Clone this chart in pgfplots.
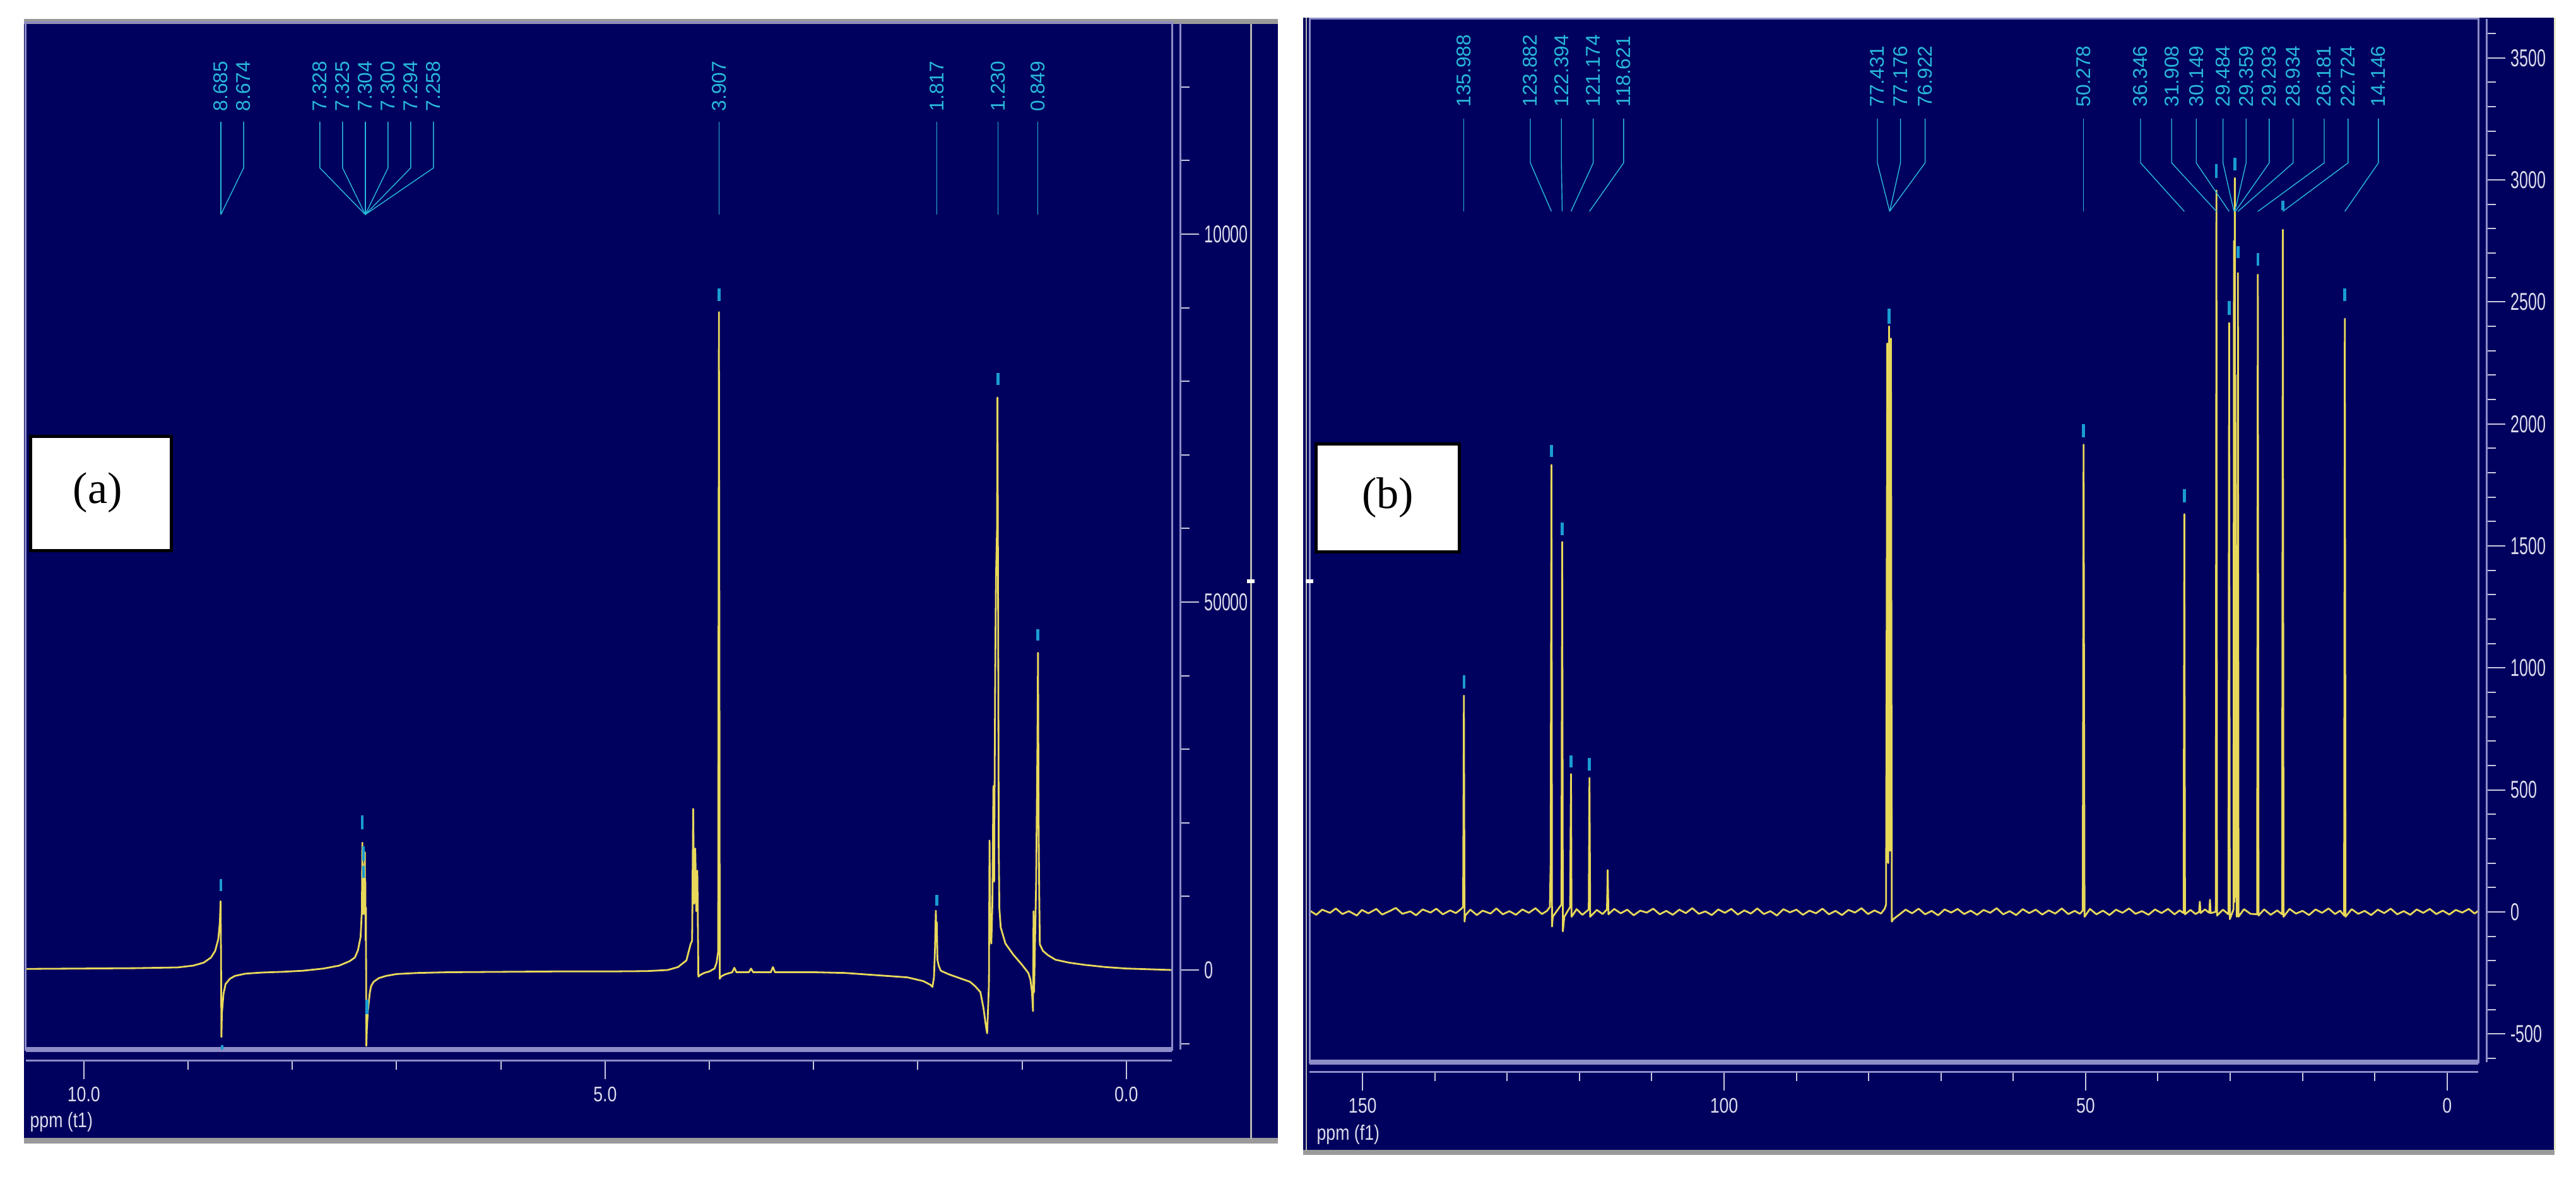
\documentclass[border=0pt]{standalone}
\usepackage{pgfplots}
\pgfplotsset{compat=1.18}
\usepackage{fontspec}
\setmainfont{Liberation Sans}
\newfontfamily\serifont{Liberation Serif}
\definecolor{navy}{HTML}{00005E}
\definecolor{specy}{HTML}{E8D85A}
\definecolor{cyanl}{HTML}{28B8DA}
\definecolor{markc}{HTML}{1A9CD2}
\definecolor{framecol}{HTML}{8C8CC8}
\definecolor{tickcol}{HTML}{C8C8E0}
\definecolor{labcol}{HTML}{DCDCEC}
\definecolor{barcol}{HTML}{9A9A9A}
\definecolor{sepcol}{HTML}{B4B4B4}
\definecolor{pale}{HTML}{E8E8C8}

\pgfplotsset{
  nmr/.style={
    scale only axis, anchor=south west, x dir=reverse,
    axis x line*=bottom, axis y line*=right,
    axis line style={framecol, line width=0.03cm, -},
    xtick align=outside, ytick align=outside,
    major tick length=0.3cm, minor tick length=0.15cm,
    every tick/.style={tickcol, line width=0.02cm},
    clip mode=individual, scaled ticks=false,
    xticklabel style={font=\fontsize{9.5}{9.5}\selectfont, text=labcol, xscale=0.8},
    yticklabel style={font=\fontsize{11}{11}\selectfont, text=labcol, xscale=0.65, anchor=west},
  },
  spec/.style={color=specy, line width=0.028cm, line join=round, mark=none},
}
\tikzset{
  leader/.style={cyanl, line width=0.014cm},
  lbl/.style={text=cyanl, rotate=90, anchor=west, inner sep=0pt, font=\fontsize{9}{9}\selectfont},
  pkmark/.style={markc, line width=0.045cm},
}
\newcommand\pka[3]{\draw[leader] (axis cs:#1,115270) -- (axis cs:#1,109000) -- (axis cs:#2,102660); \node[lbl] at (axis cs:#1,116640) {#3};}
\newcommand\pkb[3]{\draw[leader] (axis cs:#1,3251) -- (axis cs:#1,3070) -- (axis cs:#2,2871); \node[lbl] at (axis cs:#1,3298) {#3};}
\newcommand\mk[3]{\draw[pkmark] (axis cs:#1,#2) -- (axis cs:#1,#3);}

\begin{document}
\begin{tikzpicture}
\useasboundingbox (0,0) rectangle (40.82,18.64);
\fill[white] (0,0) rectangle (40.82,18.64);
% panel (a) background
\fill[navy] (0.38,0.59) rectangle (20.25,18.34);
\fill[barcol] (0.38,18.26) rectangle (20.25,18.34);
\fill[barcol] (0.38,0.52) rectangle (20.25,0.61);
\draw[sepcol, line width=0.03cm] (19.82,0.59) -- (19.82,18.26);
% panel (b) background
\fill[navy] (20.65,0.41) rectangle (40.48,18.36);
\fill[barcol] (20.65,0.34) rectangle (40.48,0.42);
\draw[pale, line width=0.03cm] (40.48,0.41) -- (40.48,18.36);
\draw[sepcol, line width=0.02cm] (20.70,0.41) -- (20.70,18.36);

% ---------------- (a) 1H spectrum ----------------
\begin{axis}[nmr, at={(0.41cm,2.01cm)}, width=18.16cm, height=16.27cm,
  xmin=-0.437, xmax=10.556, ymin=-10806, ymax=128730,
  axis x line shift=0.17cm, axis y line shift=0.13cm,
  xtick={0,5,10}, xticklabels={0.0,5.0,10.0}, minor xtick={0,1,...,10},
  ytick={0,50000,100000}, yticklabels={0,50000,10000}, minor ytick={-10000,0,...,120000}]
\addplot[spec] coordinates {
(10.556,150) (10.0,200) (9.5,250) (9.1,350) (8.95,600) (8.85,1000) (8.78,1700)
(8.74,2600) (8.71,4200) (8.695,6500) (8.688,9350) (8.684,2000) (8.680,-9100)
(8.676,-6000) (8.670,-4900) (8.66,-3200) (8.64,-1900) (8.60,-1200) (8.55,-800)
(8.45,-500) (8.3,-350) (8.1,-250) (7.9,-100) (7.7,200) (7.55,600) (7.45,1200)
(7.40,1700) (7.37,2700) (7.345,4500) (7.333,8000) (7.328,17300) (7.326,9000)
(7.325,14500) (7.318,7600) (7.310,9000) (7.304,16000) (7.302,8000) (7.300,12000)
(7.297,4000) (7.294,8500) (7.290,-10300) (7.285,-8000) (7.275,-5500) (7.258,-3200)
(7.245,-2200) (7.22,-1600) (7.17,-1100) (7.1,-800) (7.0,-550) (6.8,-400) (6.5,-300)
(6.0,-250) (5.5,-200) (5.0,-200) (4.6,-150) (4.4,0) (4.3,400) (4.22,1300) (4.18,3500)
(4.165,4000) (4.155,21900) (4.145,9000) (4.135,16500) (4.125,8000) (4.115,13500)
(4.105,-900) (4.09,-700) (4.05,-400) (4.0,-200) (3.95,200) (3.93,1000) (3.915,2500)
(3.908,89400) (3.903,40000) (3.900,-1200) (3.89,-900) (3.85,-600) (3.78,-300)
(3.76,300) (3.74,-300) (3.62,-300) (3.60,200) (3.58,-300) (3.41,-300) (3.39,400)
(3.37,-300) (3.0,-300) (2.7,-400) (2.5,-600) (2.3,-800) (2.1,-1000) (1.95,-1500)
(1.88,-2000) (1.86,-2300) (1.845,-1000) (1.835,3000) (1.827,8060) (1.822,4000)
(1.818,6500) (1.812,1400) (1.80,600) (1.78,-100) (1.70,-600) (1.60,-1100)
(1.50,-1600) (1.45,-2200) (1.40,-3000) (1.37,-5200) (1.345,-7800) (1.335,-8600)
(1.318,-2000) (1.312,17600) (1.305,5000) (1.295,3600) (1.285,9000) (1.275,25000)
(1.268,12000) (1.258,40000) (1.250,53400) (1.240,60000) (1.236,77800) (1.230,50000)
(1.224,16900) (1.218,8400) (1.205,5800) (1.16,3600) (1.085,2100) (1.00,700)
(0.94,-400) (0.92,-1300) (0.905,-3000) (0.895,-5600) (0.890,8000) (0.885,-3000)
(0.865,12000) (0.853,30000) (0.847,43100) (0.842,21000) (0.836,11000) (0.830,3500)
(0.80,2600) (0.75,2000) (0.68,1400) (0.55,1000) (0.4,700) (0.2,400) (0.0,200) (-0.437,0)
};
\draw[framecol, line width=0.03cm] (rel axis cs:0,0) rectangle (rel axis cs:1,1);
\draw[framecol, line width=0.08cm] (rel axis cs:0,0) -- (rel axis cs:1,0);
\pka{8.685}{8.685}{8.685}
\pka{8.467}{8.685}{8.674}
\pka{7.736}{7.30}{7.328}
\pka{7.518}{7.30}{7.325}
\pka{7.300}{7.30}{7.304}
\pka{7.082}{7.30}{7.300}
\pka{6.864}{7.30}{7.294}
\pka{6.646}{7.30}{7.258}
\pka{3.907}{3.907}{3.907}
\pka{1.817}{1.817}{1.817}
\pka{1.230}{1.230}{1.230}
\pka{0.849}{0.849}{0.849}
\mk{8.685}{10700}{12350}
\mk{8.674}{-10200}{-10800}
\mk{7.328}{19100}{21000}
\mk{7.318}{14800}{16800}
\mk{7.318}{12500}{14150}
\mk{7.285}{-4000}{-6000}
\mk{3.907}{90900}{92600}
\mk{1.817}{8750}{10240}
\mk{1.230}{79500}{81100}
\mk{0.849}{44800}{46300}
\end{axis}

% ---------------- (b) 13C spectrum ----------------
\begin{axis}[nmr, at={(20.75cm,1.81cm)}, width=18.52cm, height=16.53cm,
  xmin=-4.3, xmax=157.35, ymin=-616, ymax=3660,
  axis x line shift=0.15cm, axis y line shift=0.13cm,
  xtick={0,50,100,150}, xticklabels={0,50,100,150}, minor xtick={0,10,...,150},
  ytick={-500,0,...,3500}, yticklabels={-500,0,500,1000,1500,2000,2500,3000,3500},
  minor ytick={-600,-500,...,3600}]
\addplot[spec] coordinates {
(157.3,5) (156.4,-12) (155.6,9) (154.5,-4) (153.7,14) (152.8,-9) (151.9,3) (150.8,-15)
(150.1,8) (149.2,-6) (148.1,12) (147.3,-11) (146.2,4) (145.4,16) (144.5,-8) (143.4,2)
(142.6,-14) (141.7,10) (140.6,-3) (139.8,13) (138.9,-10) (137.9,6) (137.1,-5) (136.4,11)
(136.1,20) (135.988,886) (135.9,-40) (135.8,-15) (135.1,9) (134.2,-13) (133.4,5)
(132.3,-7) (131.5,14) (130.6,-10) (129.7,3) (128.8,-12) (127.9,10) (127.0,-4)
(126.1,15) (125.2,-9) (124.5,4) (124.1,20) (123.99,200)
(123.882,1832) (123.8,-60) (123.7,-20) (122.5,30) (122.394,1516) (122.3,-80)
(122.1,-20) (121.3,20) (121.174,565) (121.1,-20) (120.4,11) (119.6,-12) (118.72,10)
(118.621,549) (118.52,-20) (117.6,8) (116.8,-9) (116.2,10) (116.1,171) (116.0,-10)
(115.2,12) (114.3,-6) (113.4,9) (112.5,-14) (111.6,5) (110.7,-3) (109.8,13) (108.9,-10)
(108.0,4) (107.1,-12) (106.2,9) (105.3,-5) (104.4,15) (103.5,-8) (102.6,2) (101.7,-13)
(100.8,10) (99.9,-4) (99.0,12) (98.1,-11) (97.2,6) (96.3,-7) (95.4,14) (94.5,-9)
(93.6,3) (92.7,-15) (91.8,11) (90.9,-2) (90.0,9) (89.1,-12) (88.2,5) (87.3,-6)
(86.4,13) (85.5,-10) (84.6,4) (83.7,-13) (82.8,8) (81.9,-3) (81.0,15) (80.1,-9)
(79.2,6) (78.3,-7) (77.8,12) (77.6,30)
(77.431,2330) (77.3,200) (77.176,2400) (77.05,250) (76.922,2350) (76.8,-40)
(76.6,-30) (75.8,-12) (74.9,9) (74.0,-6) (73.1,13) (72.2,-10) (71.3,4) (70.4,-14)
(69.5,10) (68.6,-3) (67.7,12) (66.8,-9) (65.9,5) (65.0,-12) (64.1,8) (63.2,-4)
(62.3,15) (61.4,-10) (60.5,3) (59.6,-13) (58.7,11) (57.8,-5) (56.9,9) (56.0,-11)
(55.1,6) (54.2,-7) (53.3,14) (52.4,-9) (51.5,4) (50.8,-8)
(50.4,5) (50.278,1915) (50.15,-20) (49.4,12) (48.5,-10) (47.6,5) (46.7,-13) (45.8,9)
(44.9,-4) (44.0,14) (43.1,-8) (42.2,3) (41.3,-12) (40.4,10) (39.5,-5) (38.6,12)
(37.7,-10) (37.0,6) (36.45,-5) (36.346,1630) (36.25,-10) (35.5,8) (34.8,-9)
(34.3,0) (34.2,42) (34.1,-5) (33.5,10) (32.9,-4) (32.8,50) (32.7,-5) (32.0,0) (31.908,2957)
(31.82,-15) (31.0,9) (30.25,-10) (30.149,2414) (30.05,-30) (29.55,10) (29.484,2750)
(29.42,40) (29.359,3008) (29.326,60) (29.293,2200) (29.1,-20) (29.0,10)
(28.934,2618) (28.85,-20) (28.1,11) (27.2,-8) (26.28,-10) (26.181,2612) (26.08,-15)
(25.3,10) (24.4,-12) (23.5,6) (22.82,-10) (22.724,2796) (22.62,-20) (21.8,12)
(20.9,-7) (20.0,4) (19.1,-13) (18.2,10) (17.3,-4) (16.4,14) (15.5,-9) (14.8,5)
(14.25,-15) (14.146,2431) (14.05,-20) (13.2,11) (12.3,-8) (11.4,4) (10.5,-13) (9.6,9)
(8.7,-5) (7.8,13) (6.9,-10) (6.0,3) (5.1,-12) (4.2,10) (3.3,-4) (2.4,12) (1.5,-9)
(0.6,5) (-0.3,-11) (-1.2,8) (-2.1,-3) (-3.0,12) (-3.8,-7) (-4.3,4)
};
\draw[framecol, line width=0.03cm] (rel axis cs:0,0) rectangle (rel axis cs:1,1);
\draw[framecol, line width=0.08cm] (rel axis cs:0,0) -- (rel axis cs:1,0);
\pkb{135.988}{135.988}{135.988}
\pkb{126.8}{123.882}{123.882}
\pkb{122.5}{122.394}{122.394}
\pkb{118.1}{121.174}{121.174}
\pkb{113.9}{118.621}{118.621}
\pkb{78.8}{77.1}{77.431}
\pkb{75.6}{77.1}{77.176}
\pkb{72.2}{77.1}{76.922}
\pkb{50.278}{50.278}{50.278}
\pkb{42.4}{36.346}{36.346}
\pkb{38.1}{31.908}{31.908}
\pkb{34.7}{30.149}{30.149}
\pkb{31.0}{29.484}{29.484}
\pkb{27.8}{29.359}{29.359}
\pkb{24.6}{29.293}{29.293}
\pkb{21.3}{28.934}{28.934}
\pkb{17.0}{26.181}{26.181}
\pkb{13.7}{22.724}{22.724}
\pkb{9.5}{14.146}{14.146}
\mk{135.988}{915}{970}
\mk{123.882}{1864}{1915}
\mk{122.394}{1544}{1596}
\mk{121.174}{591}{641}
\mk{118.621}{579}{632}
\mk{77.176}{2411}{2473}
\mk{50.278}{1944}{1998}
\mk{36.346}{1679}{1733}
\mk{31.908}{3008}{3066}
\mk{30.149}{2447}{2504}
\mk{29.359}{3040}{3090}
\mk{28.934}{2679}{2730}
\mk{26.181}{2648}{2699}
\mk{22.724}{2875}{2916}
\mk{14.146}{2504}{2555}
\end{axis}

% labels and boxes
\node[anchor=west, text=labcol, font=\fontsize{9.5}{9.5}\selectfont, xscale=0.8, inner sep=0pt] at (0.47,0.86) {ppm (t1)};
\node[anchor=west, text=labcol, font=\fontsize{9.5}{9.5}\selectfont, xscale=0.8, inner sep=0pt] at (20.86,0.66) {ppm (f1)};
\filldraw[fill=white, draw=black, line width=0.05cm] (0.48,9.91) rectangle (2.71,11.72);
\node[font=\serifont\fontsize{20}{20}\selectfont] at (1.55,10.83) {(a)};
\filldraw[fill=white, draw=black, line width=0.05cm] (20.85,9.89) rectangle (23.12,11.60);
\node[font=\serifont\fontsize{20}{20}\selectfont] at (21.99,10.75) {(b)};
\fill[white] (19.76,9.40) rectangle (19.88,9.46);
\fill[white] (20.69,9.40) rectangle (20.81,9.46);
\end{tikzpicture}
\end{document}
